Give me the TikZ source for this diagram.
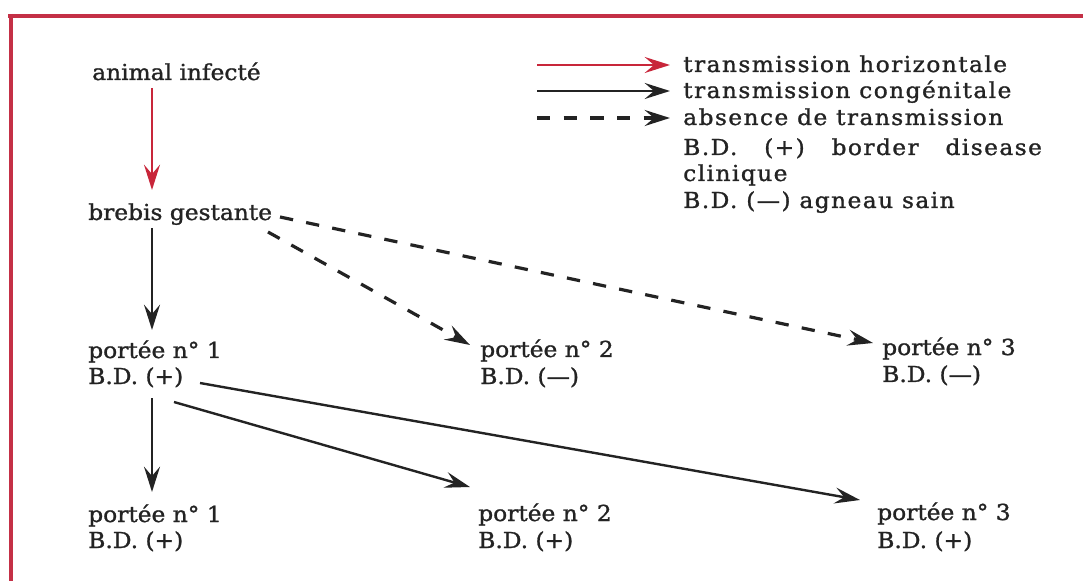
\documentclass[tikz,border=0pt]{standalone}
\usepackage{fontspec}
\setmainfont{DejaVu Serif}[FakeStretch=1.06,FakeBold=1.2]
\newfontfamily\legfont{DejaVu Serif}[FakeStretch=1.06,LetterSpace=6.5,FakeBold=1.2]
\usetikzlibrary{arrows.meta,calc}
\definecolor{redline}{RGB}{200,38,58}
\definecolor{redframe}{RGB}{196,48,70}
\definecolor{ink}{RGB}{35,35,35}
\begin{document}
\begin{tikzpicture}[x=0.75pt,y=-0.75pt,
  lbl/.style={anchor=base west, inner sep=0pt, text=ink, font=\fontsize{16.5}{20}\selectfont},
  leg/.style={anchor=base west, inner sep=0pt, text=ink, font=\fontsize{16.5}{20}\legfont},
  tip/.style={-{Stealth[length=19pt,width=12pt,inset=7pt]}},
  horiz/.style={tip, draw=redline, line width=1.8pt},
  congen/.style={tip, draw=ink, line width=1.8pt},
  absent/.style={tip, draw=ink, line width=2.4pt, dash pattern=on 10pt off 10pt},
  frame/.style={draw=redframe, line width=3pt}]
\useasboundingbox (0,0) rectangle (1083,581);
% frame (top and left edges)
\draw[frame] (8,16) -- (1083,16);
\draw[frame] (11,14) -- (11,581);

% main texts
\node[lbl] (a) at (92,80) {animal infecté};
\node[lbl] (b) at (88,220) {brebis gestante};
\node[lbl] (p1) at (88,358) {portée n° 1};
\node[lbl] (q1) at (88,384) {B.D. (+)};
\node[lbl] (p2) at (480,357) {portée n° 2};
\node[lbl] (q2) at (480,384) {B.D. (—)};
\node[lbl] (p3) at (882,355) {portée n° 3};
\node[lbl] (q3) at (882,382) {B.D. (—)};
\node[lbl] (r1) at (88,522) {portée n° 1};
\node[lbl] (s1) at (88,548) {B.D. (+)};
\node[lbl] (r2) at (478,521) {portée n° 2};
\node[lbl] (s2) at (478,548) {B.D. (+)};
\node[lbl] (r3) at (877,520) {portée n° 3};
\node[lbl] (s3) at (877,548) {B.D. (+)};

% legend
\node[leg] (l1) at (683,72) {transmission horizontale};
\node[leg] (l2) at (683,98) {transmission congénitale};
\node[leg] (l3) at (683,125) {absence de transmission};
\node[leg] (l4) at (683,155) {\makebox[269pt][s]{B.D.\ (+) border disease}};
\node[leg] (l5) at (683,181) {clinique};
\node[leg] (l6) at (683,208) {B.D. (—) agneau sain};
\coordinate (h0) at (537,65);
\coordinate (c0) at (537,91);
\coordinate (d0) at (537,118);
\draw[horiz] (h0) -- ($(l1.base west)+(-13,-7)$);
\draw[congen] (c0) -- ($(l2.base west)+(-13,-7)$);
\draw[absent] (d0) -- ($(l3.base west)+(-13,-7)$);

% connectors
\draw[horiz] ($(a.base west)+(60,8)$) -- ($(b.base west)+(64,-30)$);
\draw[congen] ($(b.base west)+(64,8)$) -- ($(p1.base west)+(64,-28)$);
\draw[absent] ($(b.base west)+(180,12)$) -- ($(p2.base west)+(-10,-12)$);
\draw[absent] ($(b.base west)+(192,-3)$) -- ($(p3.base west)+(-9,-12)$);
\draw[congen] ($(q1.base west)+(64,14)$) -- ($(r1.base west)+(64,-30)$);
\draw[congen] ($(q1.base west)+(86,18)$) -- ($(r2.base west)+(-8,-34)$);
\draw[congen] ($(q1.base west)+(112,-1)$) -- ($(r3.base west)+(-17,-20)$);
\end{tikzpicture}
\end{document}
